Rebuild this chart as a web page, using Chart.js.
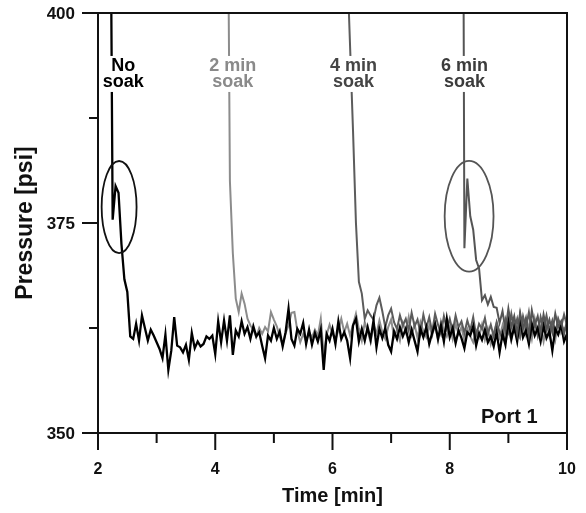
<!DOCTYPE html>
<html>
<head>
<meta charset="utf-8">
<title>Pressure vs time, Port 1</title>
<script src="https://cdn.jsdelivr.net/npm/chart.js@4.4.1/dist/chart.umd.min.js"></script>
<style>
    html, body { margin: 0; padding: 0; background: #fff; }
    #wrap { width: 586px; height: 513px; }
</style>
</head>
<body>
<div id="wrap"><canvas id="pressureChart" width="586" height="513"></canvas></div>
<script>
// Thời gian lấy mẫu (phút) - dùng chung cho 4 đường
const sampleTimes = [
    2.20, 2.25, 2.30, 2.35, 2.40, 2.45, 2.50, 2.55, 2.60, 2.65, 2.70, 2.75, 2.80, 2.85, 2.90, 2.95,
    3.00, 3.05, 3.10, 3.15, 3.20, 3.25, 3.30, 3.35, 3.40, 3.45, 3.50, 3.55, 3.60, 3.65, 3.70, 3.75,
    3.80, 3.85, 3.90, 3.95, 4.00, 4.05, 4.10, 4.15, 4.20, 4.25, 4.30, 4.35, 4.40, 4.45, 4.50, 4.55,
    4.60, 4.65, 4.70, 4.75, 4.80, 4.85, 4.90, 4.95, 5.00, 5.05, 5.10, 5.15, 5.20, 5.25, 5.30, 5.35,
    5.40, 5.45, 5.50, 5.55, 5.60, 5.65, 5.70, 5.75, 5.80, 5.85, 5.90, 5.95, 6.00, 6.05, 6.10, 6.15,
    6.20, 6.25, 6.30, 6.35, 6.40, 6.45, 6.50, 6.55, 6.60, 6.65, 6.70, 6.75, 6.80, 6.85, 6.90, 6.95,
    7.00, 7.05, 7.10, 7.15, 7.20, 7.25, 7.30, 7.35, 7.40, 7.45, 7.50, 7.55, 7.60, 7.65, 7.70, 7.75,
    7.80, 7.85, 7.90, 7.95, 8.00, 8.05, 8.10, 8.15, 8.20, 8.25, 8.30, 8.35, 8.40, 8.45, 8.50, 8.55,
    8.60, 8.65, 8.70, 8.75, 8.80, 8.85, 8.90, 8.95, 9.00, 9.05, 9.10, 9.15, 9.20, 9.25, 9.30, 9.35,
    9.40, 9.45, 9.50, 9.55, 9.60, 9.65, 9.70, 9.75, 9.80, 9.85, 9.90, 9.95, 10.00
];

// No soak (đen)
const noSoak = [
    430, 375.4, 379.4, 378.6, 372.5, 368.3, 366.8, 361.5, 361.2, 363.0, 361.0, 364.0, 362.5, 361.0, 362.3, 361.6,
    360.8, 360.0, 358.9, 361.7, 357.5, 359.8, 363.8, 360.4, 360.2, 359.6, 360.5, 358.7, 361.9, 360.1, 360.9, 360.3,
    360.6, 361.5, 361.2, 361.6, 359.4, 363.3, 360.8, 363.4, 361.0, 364.0, 359.3, 362.2, 361.5, 363.3, 361.8, 362.6,
    361.2, 362.7, 361.5, 362.0, 360.4, 358.9, 361.6, 361.0, 362.5, 361.2, 362.1, 360.3, 362.0, 364.8, 361.2, 360.4,
    362.4, 361.8, 363.1, 360.6, 362.3, 360.5, 361.9, 360.9, 362.3, 357.5, 361.8, 361.0, 362.4, 360.6, 363.3, 361.2,
    362.0, 361.0, 358.9, 362.8, 363.6, 360.9, 362.4, 361.0, 362.6, 361.1, 363.4, 360.2, 362.4, 361.3, 362.5, 360.5,
    359.7, 362.1, 361.2, 362.6, 361.5, 362.4, 360.8, 362.3, 361.0, 359.7, 362.4, 361.4, 362.6, 360.6, 361.9, 363.0,
    361.2, 362.8, 360.9, 363.6, 361.4, 362.5, 360.7, 362.2, 361.3, 360.1, 362.0, 361.6, 362.7, 360.4, 361.9, 361.1,
    362.3, 360.8, 361.5, 360.3, 362.0, 359.6, 361.8, 360.5, 363.4, 361.2, 362.6, 360.9, 363.8, 361.4, 362.2, 360.6,
    363.0, 361.6, 362.5, 360.9, 362.8, 361.3, 362.1, 359.8, 362.4, 361.7, 362.9, 360.9, 361.8
];

// 2 min soak (xám nhạt)
const soak2 = [
    null, null, null, null, null, null, null, null, null, null, null, null, null, null, null, null,
    null, null, null, null, null, null, null, null, null, null, null, null, null, null, null, null,
    null, null, null, null, null, null, null, null, 430, 380, 371.4, 366.0, 364.4, 366.6, 365.4, 363.6,
    362.8, 362.3, 361.4, 362.5, 361.8, 362.6, 362.1, 364.4, 363.5, 362.7, 361.5, 360.5, 361.9, 362.8, 364.3, 364.4,
    362.2, 360.8, 361.8, 360.9, 362.0, 361.4, 362.3, 361.6, 363.6, 359.3, 361.7, 362.9, 361.8, 361.1, 362.2, 363.6,
    362.0, 363.0, 361.6, 362.9, 364.2, 362.4, 361.0, 363.2, 362.1, 360.8, 362.9, 361.8, 363.4, 362.0, 361.2, 362.6,
    363.5, 361.4, 362.3, 361.0, 363.1, 362.0, 363.8, 361.7, 362.9, 361.3, 363.2, 362.1, 361.4, 362.8, 361.6, 362.9,
    361.0, 363.3, 362.2, 361.5, 362.7, 361.2, 363.0, 361.8, 362.6, 361.0, 362.4, 361.5, 360.8, 362.2, 361.4, 362.9,
    361.1, 362.4, 360.6, 361.9, 363.1, 361.4, 362.8, 360.8, 362.3, 361.0, 363.5, 362.0, 361.3, 363.2, 361.7, 362.9,
    361.2, 363.6, 361.8, 362.6, 360.9, 363.0, 361.5, 362.7, 361.1, 363.4, 361.9, 362.5, 362.2
];

// 4 min soak (xám vừa)
const soak4 = [
    null, null, null, null, null, null, null, null, null, null, null, null, null, null, null, null,
    null, null, null, null, null, null, null, null, null, null, null, null, null, null, null, null,
    null, null, null, null, null, null, null, null, null, null, null, null, null, null, null, null,
    null, null, null, null, null, null, null, null, null, null, null, null, null, null, null, null,
    null, null, null, null, null, null, null, null, null, null, null, null, null, null, null, null,
    null, 406, 396, 386, 375, 368, 366.6, 363.6, 364.6, 364.0, 363.5, 365.2, 366.1, 364.5, 362.6, 364.0,
    364.8, 363.2, 362.4, 364.0, 362.8, 363.6, 362.2, 364.3, 362.7, 363.5, 361.9, 364.1, 362.5, 363.8, 362.0, 364.2,
    362.9, 361.8, 363.9, 362.4, 363.6, 362.1, 364.0, 362.6, 363.3, 361.9, 363.4, 362.2, 363.8, 361.6, 363.0, 362.4,
    363.7, 361.8, 362.9, 361.5, 363.2, 362.0, 361.3, 363.5, 362.1, 364.2, 362.3, 363.6, 361.7, 363.9, 362.5, 364.4,
    362.0, 363.3, 361.6, 363.8, 362.4, 364.0, 362.2, 363.4, 361.9, 363.6, 362.6, 364.1, 362.8
];

// 6 min soak (xám đậm)
const soak6 = [
    null, null, null, null, null, null, null, null, null, null, null, null, null, null, null, null,
    null, null, null, null, null, null, null, null, null, null, null, null, null, null, null, null,
    null, null, null, null, null, null, null, null, null, null, null, null, null, null, null, null,
    null, null, null, null, null, null, null, null, null, null, null, null, null, null, null, null,
    null, null, null, null, null, null, null, null, null, null, null, null, null, null, null, null,
    null, null, null, null, null, null, null, null, null, null, null, null, null, null, null, null,
    null, null, null, null, null, null, null, null, null, null, null, null, null, null, null, null,
    null, null, null, null, null, null, null, null, 480, 372, 380.3, 375.8, 374.2, 370.6, 369.6, 365.8,
    366.4, 365.3, 366.2, 365.0, 364.9, 363.1, 364.5, 362.2, 364.8, 362.6, 363.9, 361.8, 364.3, 362.4, 363.7, 361.6,
    364.6, 362.8, 363.9, 361.9, 364.1, 362.3, 363.5, 362.0, 364.2, 362.6, 363.3, 361.8, 363.4
];

// Vạch chia trục
const xMajorTicks = [2, 4, 6, 8, 10];
const xMinorTicks = [3, 5, 7, 9];
const yMajorTicks = [350, 375, 400];
const yMinorTicks = [362.5, 387.5];

// Nhãn chú thích trên đồ thị
const seriesLabels = [
    { lines: ['No', 'soak'], t: 2.43, color: '#000000' },
    { lines: ['2 min', 'soak'], t: 4.30, color: '#8a8a8a' },
    { lines: ['4 min', 'soak'], t: 6.36, color: '#454545' },
    { lines: ['6 min', 'soak'], t: 8.25, color: '#3c3c3c' }
];
const labelPsi = 393.1;   // đường cơ sở dòng đầu

// Các elip khoanh vùng đỉnh áp suất
const ellipses = [
    { t: 2.36, psi: 376.9, rt: 0.298, rpsi: 5.48, color: '#111111' },
    { t: 8.33, psi: 375.8, rt: 0.417, rpsi: 6.59, color: '#555555' }
];

const FONT = "'Liberation Sans', Arial, Helvetica, sans-serif";

function toPoints(values) {
    return sampleTimes.map((t, i) => ({ x: t, y: values[i] }));
}

// Plugin vẽ elip, nhãn, khung, vạch chia và số trên trục
const decorPlugin = {
    id: 'decor',
    afterDatasetsDraw(chart) {
        const { ctx, scales: { x, y } } = chart;
        ctx.save();

        // Elip
        ellipses.forEach(e => {
            const cx = x.getPixelForValue(e.t);
            const cy = y.getPixelForValue(e.psi);
            const rx = Math.abs(x.getPixelForValue(e.t + e.rt) - cx);
            const ry = Math.abs(y.getPixelForValue(e.psi + e.rpsi) - cy);
            ctx.beginPath();
            ctx.ellipse(cx, cy, rx, ry, 0, 0, Math.PI * 2);
            ctx.lineWidth = 1.8;
            ctx.strokeStyle = e.color;
            ctx.stroke();
        });

        // Nhãn series (nền trắng cắt đường)
        ctx.font = 'bold 18px ' + FONT;
        ctx.textAlign = 'center';
        ctx.textBaseline = 'alphabetic';
        seriesLabels.forEach(lbl => {
            const cx = x.getPixelForValue(lbl.t);
            const by = y.getPixelForValue(labelPsi);
            const w = Math.max(...lbl.lines.map(s => ctx.measureText(s).width));
            ctx.fillStyle = '#ffffff';
            ctx.fillRect(cx - w / 2 - 2, by - 15, w + 4, 36);
            ctx.fillStyle = lbl.color;
            lbl.lines.forEach((s, i) => ctx.fillText(s, cx, by + i * 16.5));
        });

        // Port 1
        ctx.font = 'bold 20px ' + FONT;
        ctx.fillStyle = '#111111';
        ctx.textAlign = 'right';
        ctx.fillText('Port 1', x.getPixelForValue(9.5), y.getPixelForValue(350) - 10);

        ctx.restore();
    },
    afterDraw(chart) {
        const { ctx, chartArea: a, scales: { x, y } } = chart;
        ctx.save();
        ctx.strokeStyle = '#111111';
        ctx.lineWidth = 2;
        ctx.strokeRect(a.left, a.top, a.right - a.left, a.bottom - a.top);

        ctx.beginPath();
        xMajorTicks.forEach(v => {
            const px = x.getPixelForValue(v);
            ctx.moveTo(px, a.bottom); ctx.lineTo(px, a.bottom + 17);
        });
        xMinorTicks.forEach(v => {
            const px = x.getPixelForValue(v);
            ctx.moveTo(px, a.bottom); ctx.lineTo(px, a.bottom + 10);
        });
        yMajorTicks.forEach(v => {
            const py = y.getPixelForValue(v);
            ctx.moveTo(a.left, py); ctx.lineTo(a.left - 16, py);
        });
        yMinorTicks.forEach(v => {
            const py = y.getPixelForValue(v);
            ctx.moveTo(a.left, py); ctx.lineTo(a.left - 9, py);
        });
        ctx.stroke();

        // Số trên trục
        ctx.fillStyle = '#111111';
        ctx.textBaseline = 'middle';
        ctx.font = 'bold 16px ' + FONT;
        ctx.textAlign = 'center';
        xMajorTicks.forEach(v => ctx.fillText(String(v), x.getPixelForValue(v), a.bottom + 37));
        ctx.font = 'bold 17px ' + FONT;
        ctx.textAlign = 'right';
        yMajorTicks.forEach(v => ctx.fillText(String(v), a.left - 23, y.getPixelForValue(v) + 1));
        ctx.restore();
    }
};

function lineSet(label, values, color, width, order) {
    return {
        label: label,
        data: toPoints(values),
        borderColor: color,
        backgroundColor: color,
        borderWidth: width,
        pointRadius: 0,
        tension: 0,
        spanGaps: false,
        order: order
    };
}

const ctx = document.getElementById('pressureChart').getContext('2d');
const pressureChart = new Chart(ctx, {
    type: 'line',
    data: {
        datasets: [
            lineSet('No soak', noSoak, '#000000', 2.3, 1),
            lineSet('2 min soak', soak2, '#8c8c8c', 2, 3),
            lineSet('4 min soak', soak4, '#5c5c5c', 2, 2),
            lineSet('6 min soak', soak6, '#555555', 2, 0)
        ]
    },
    options: {
        responsive: false,
        animation: false,
        devicePixelRatio: 1,
        layout: { padding: { left: 0, top: 13, right: 19, bottom: 0 } },
        plugins: {
            legend: { display: false },
            tooltip: { enabled: false }
        },
        scales: {
            x: {
                type: 'linear',
                min: 2,
                max: 10,
                grid: { display: false, drawTicks: false },
                border: { display: false },
                ticks: { display: false, stepSize: 1 },
                title: {
                    display: true,
                    text: 'Time [min]',
                    color: '#111111',
                    padding: { top: 0, bottom: 5 },
                    font: { family: FONT, size: 20, weight: 'bold' }
                },
                afterFit(scale) { scale.height = 80; }
            },
            y: {
                min: 350,
                max: 400,
                grid: { display: false, drawTicks: false },
                border: { display: false },
                ticks: { display: false, stepSize: 12.5 },
                title: {
                    display: true,
                    text: 'Pressure [psi]',
                    color: '#111111',
                    padding: { top: 12, bottom: 0 },
                    font: { family: FONT, size: 23, weight: 'bold' }
                },
                afterFit(scale) { scale.width = 98; }
            }
        }
    },
    plugins: [decorPlugin]
});
</script>
</body>
</html>
